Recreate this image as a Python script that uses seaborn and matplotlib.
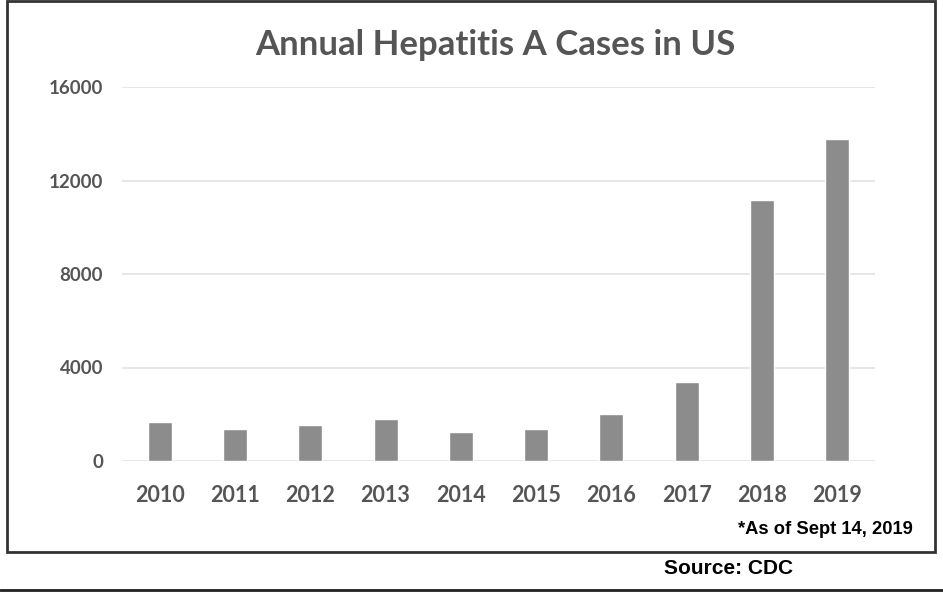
import matplotlib
matplotlib.use("Agg")
import matplotlib.pyplot as plt
import seaborn as sns
import pandas as pd
from matplotlib.patches import Rectangle
from matplotlib.lines import Line2D

years = ["2010", "2011", "2012", "2013", "2014", "2015", "2016", "2017", "2018", "2019"]
cases = [1650, 1380, 1560, 1780, 1230, 1390, 2000, 3370, 11170, 13780]
y_ticks = [0, 4000, 8000, 12000, 16000]

df = pd.DataFrame({"year": years, "cases": cases})

sns.set_theme(style="white")
plt.rcParams["font.family"] = ["Lato", "DejaVu Sans"]

text_grey = "#555555"
bar_grey = "#8c8c8c"

fig = plt.figure(figsize=(9.43, 5.92), dpi=100)
ax = fig.add_axes([122 / 943, 1 - 461 / 592, 753 / 943, 374 / 592])

sns.barplot(data=df, x="year", y="cases", color=bar_grey, saturation=1,
            width=0.32, ax=ax, zorder=3)

ax.set_xlim(-0.5, len(years) - 0.5)
ax.set_ylim(0, 16000)
ax.set_yticks(y_ticks)
ax.set_yticklabels([str(v) for v in y_ticks])
ax.yaxis.grid(True, color="#e3e3e3", linewidth=1.2, zorder=0)
ax.xaxis.grid(False)
ax.set_xlabel("")
ax.set_ylabel("")
for s in ax.spines.values():
    s.set_visible(False)
ax.tick_params(axis="both", length=0)
ax.tick_params(axis="y", pad=13.5, labelsize=13.5, labelcolor=text_grey)
ax.tick_params(axis="x", pad=17.5, labelsize=15.5, labelcolor=text_grey)
for lab in ax.get_yticklabels() + ax.get_xticklabels():
    lab.set_fontweight("bold")

fig.text(495 / 943, 1 - 45 / 592, "Annual Hepatitis A Cases in US",
         ha="center", va="center", fontsize=25, fontweight="bold", color=text_grey)

fig.text(913 / 943, 1 - 530 / 592, "*As of Sept 14, 2019",
         ha="right", va="center", fontsize=13.2, fontweight="bold", color="black",
         family=["Liberation Sans", "DejaVu Sans"])
fig.text(729 / 943, 1 - 568 / 592, "Source: CDC",
         ha="center", va="center", fontsize=15, fontweight="bold", color="black",
         family=["Liberation Sans", "DejaVu Sans"])

# frame around the chart area and the rule beneath the source line
fig.patches.append(Rectangle((7 / 943, 1 - 552 / 592), (935 - 7) / 943, 551 / 592,
                             transform=fig.transFigure, fill=False,
                             edgecolor="#333333", linewidth=2))
fig.lines.append(Line2D([0, 1], [1 - 590 / 592] * 2, transform=fig.transFigure,
                        color="#222222", linewidth=2))

fig.savefig("out.png", dpi=100)
